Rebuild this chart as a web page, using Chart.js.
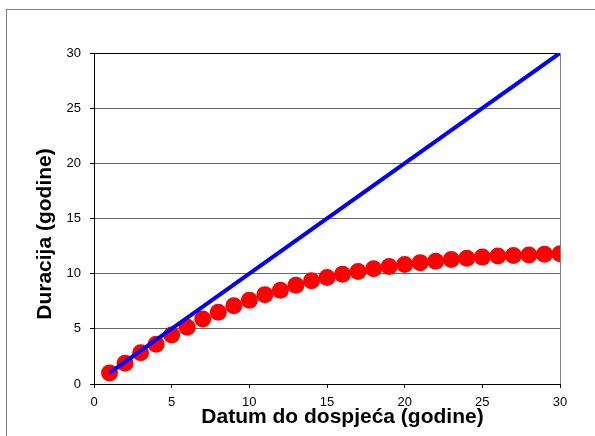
<!DOCTYPE html>
<html>
<head>
<meta charset="utf-8">
<script src="https://cdn.jsdelivr.net/npm/chart.js@4.4.1/dist/chart.umd.min.js"></script>
<style>
    html, body { margin: 0; padding: 0; background: #fff; overflow: hidden; width: 595px; height: 436px; }
    #frame { position: absolute; left: 6px; top: 9px; width: 589px; height: 427px; border-left: 1px solid #808080; border-top: 1px solid #808080; }
    #chart { position: absolute; left: 0; top: 0; }
</style>
</head>
<body>
<div id="frame"></div>
<canvas id="chart" width="595" height="436"></canvas>
<script>
// Maturity in years and the Macaulay duration of a coupon bond
const maturities = [1, 2, 3, 4, 5, 6, 7, 8, 9, 10, 11, 12, 13, 14, 15,
                    16, 17, 18, 19, 20, 21, 22, 23, 24, 25, 26, 27, 28, 29, 30];
const durations = [1.00, 1.88, 2.84, 3.60, 4.45, 5.15, 5.90, 6.50, 7.10, 7.60,
                   8.10, 8.50, 8.95, 9.35, 9.65, 9.94, 10.20, 10.45, 10.65, 10.84,
                   11.00, 11.13, 11.28, 11.40, 11.50, 11.60, 11.65, 11.70, 11.76, 11.80];

// Zero-coupon bond: duration equals maturity
const zeroMaturities = [1, 30];
const zeroDurations = [1, 30];

const xTitle = 'Datum do dospjeća (godine)';
const yTitle = 'Duracija (godine)';

const FONT = '"Liberation Sans", Arial, sans-serif';

/**
 * Excel-style axis titles, placed where the original sheet put them
 */
const axisTitles = {
    id: 'axisTitles',
    afterDraw(chart) {
        const ctx = chart.ctx;
        ctx.save();
        ctx.fillStyle = '#000';
        ctx.font = 'bold 21px ' + FONT;
        ctx.textAlign = 'center';
        ctx.textBaseline = 'alphabetic';
        ctx.fillText(xTitle, 342.5, 422.5);

        ctx.translate(51, 234);
        ctx.rotate(-Math.PI / 2);
        ctx.fillText(yTitle, 0, 0);
        ctx.restore();
    }
};

const toPoints = (xs, ys) => xs.map((x, i) => ({ x: x, y: ys[i] }));

new Chart(document.getElementById('chart'), {
    type: 'scatter',
    data: {
        datasets: [
            {
                label: 'Nulti kupon',
                data: toPoints(zeroMaturities, zeroDurations),
                showLine: true,
                borderColor: '#0000ff',
                borderWidth: 4,
                pointRadius: 0,
                order: 0
            },
            {
                label: 'Kuponska obveznica',
                data: toPoints(maturities, durations),
                showLine: false,
                backgroundColor: '#ff0000',
                borderWidth: 0,
                pointRadius: 8.5,
                order: 1
            }
        ]
    },
    options: {
        responsive: false,
        animation: false,
        layout: { padding: { top: 53, right: 35, bottom: 0, left: 0 } },
        plugins: {
            legend: { display: false },
            tooltip: { enabled: false }
        },
        scales: {
            x: {
                type: 'linear',
                min: 0,
                max: 30,
                afterFit: scale => { scale.height = 52; },
                border: { color: '#000', width: 1 },
                grid: {
                    drawOnChartArea: true,
                    color: c => (c.tick && c.tick.value === 30) ? '#808080' : 'rgba(0,0,0,0)',
                    tickColor: '#000',
                    tickLength: 4
                },
                ticks: {
                    stepSize: 5,
                    padding: 7,
                    color: '#000',
                    maxRotation: 0,
                    font: { family: FONT, size: 13 }
                }
            },
            y: {
                min: 0,
                max: 30,
                afterFit: scale => { scale.width = 94; },
                border: { color: '#000', width: 1 },
                grid: {
                    color: c => {
                        if (!c.tick) return '#666';
                        if (c.tick.value === 30) return '#000';
                        if (c.tick.value === 0) return 'rgba(0,0,0,0)';
                        return '#666';
                    },
                    tickColor: '#000',
                    tickLength: 4
                },
                ticks: {
                    stepSize: 5,
                    padding: 9,
                    color: '#000',
                    font: { family: FONT, size: 13 }
                }
            }
        }
    },
    plugins: [axisTitles]
});
</script>
</body>
</html>
